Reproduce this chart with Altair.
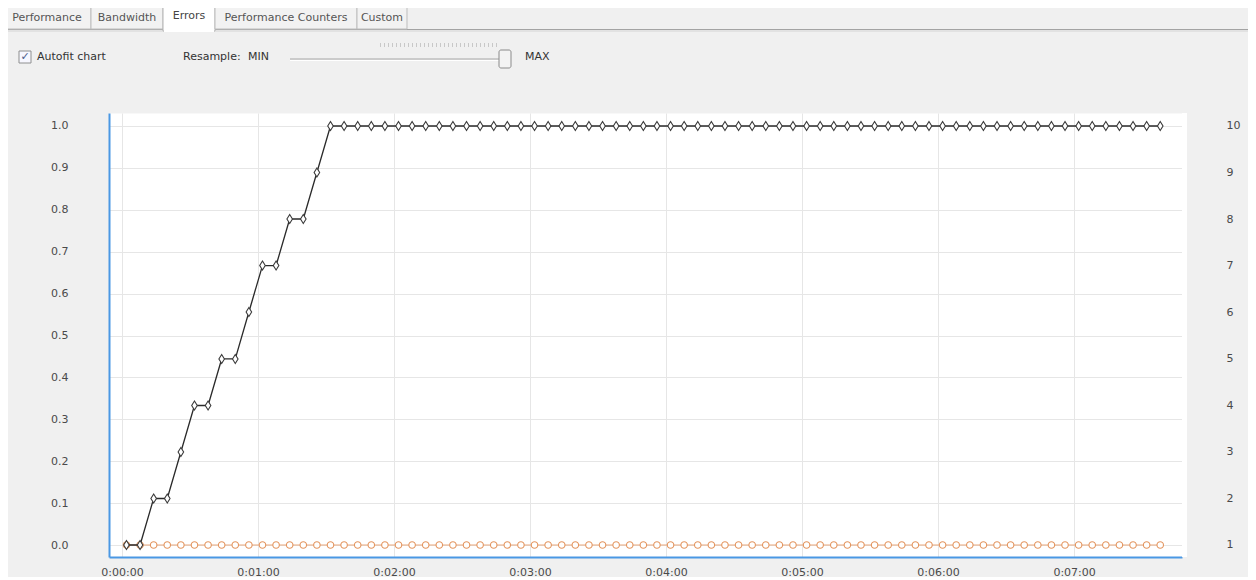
import altair as alt
import pandas as pd

# ---------------- data ----------------
sample_seconds = list(range(2, 459, 6))  # one sample every 6 s (77 samples)
error_ratio = [0.0, 0.0, 0.111, 0.111, 0.222, 0.333, 0.333, 0.444, 0.444,
               0.556, 0.667, 0.667, 0.778, 0.778, 0.889] + [1.0] * 62
other_errors = [0.0] * 77
left_ticks = [0.0, 0.1, 0.2, 0.3, 0.4, 0.5, 0.6, 0.7, 0.8, 0.9, 1.0]
right_ticks = [1, 2, 3, 4, 5, 6, 7, 8, 9, 10]
minute_ticks = [0, 60, 120, 180, 240, 300, 360, 420]
tab_labels = ["Performance", "Bandwidth", "Errors", "Performance Counters", "Custom"]

df = pd.DataFrame({"t": sample_seconds, "errors": error_ratio, "other": other_errors})
df_right = pd.DataFrame({"r": right_ticks})
one = pd.DataFrame({"k": [0]})

FONT = "DejaVu Sans"
BLUE = "#4a98e4"
GRID = "#e6e6e6"
LBL = "#4a4a4a"

# plot origin on the page
OX, OY = 109, 113
W, H = 1073, 444

xs = alt.Scale(domain=[-5.7, 467.6], nice=False, zero=False)
ys = alt.Scale(domain=[-0.0286, 1.031], nice=False, zero=False)
rs = alt.Scale(domain=[0.742, 10.279], nice=False, zero=False)

XAX = alt.Axis(values=minute_ticks, labelExpr="'0:0' + floor(datum.value / 60) + ':00'",
               title="", ticks=False, domainColor=BLUE, domainWidth=2,
               grid=True, gridColor=GRID, labelPadding=9, labelFontSize=11,
               labelColor=LBL, labelFont=FONT)
YAX = alt.Axis(values=left_ticks, format=".1f", title="", ticks=False,
               domainColor=BLUE, domainWidth=2, grid=True, gridColor=GRID,
               labelPadding=41, labelFontSize=11, labelColor=LBL, labelFont=FONT)
RAX = alt.Axis(values=right_ticks, format="d", title="", ticks=False, domain=False,
               grid=False, orient="right", labelAlign="left", labelPadding=44,
               labelFontSize=11, labelColor=LBL, labelFont=FONT)

base = alt.Chart(df)
X = alt.X("t:Q", scale=xs, axis=XAX)

orange_line = base.mark_line(color="#e9a77c", strokeWidth=1.2).encode(
    x=X, y=alt.Y("other:Q", scale=ys, axis=YAX))
orange_pts = base.mark_point(shape="circle", size=42, filled=True, fill="white",
                             stroke="#e3955f", strokeWidth=1.1, opacity=1).encode(
    x=X, y=alt.Y("other:Q", scale=ys, axis=YAX))
black_line = base.mark_line(color="#2a2a2a", strokeWidth=1.3).encode(
    x=X, y=alt.Y("errors:Q", scale=ys, axis=YAX))
black_pts = base.mark_point(shape="M0,-1L0.62,0L0,1L-0.62,0Z", size=80, filled=True,
                            fill="white", stroke="#3a3a3a", strokeWidth=1.1, opacity=1).encode(
    x=X, y=alt.Y("errors:Q", scale=ys, axis=YAX))

data_layer = alt.layer(orange_line, orange_pts, black_line, black_pts)

right_axis = alt.Chart(df_right).mark_point(opacity=0).encode(
    y=alt.Y("r:Q", scale=rs, axis=RAX))


# ---------------- window decoration ----------------
def ui_rect(x1, y1, x2, y2, fill, stroke="transparent", sw=1, radius=0):
    return alt.Chart(one).mark_rect(fill=fill, stroke=stroke, strokeWidth=sw,
                                    cornerRadius=radius).encode(
        x=alt.value(x1 - OX), x2=alt.value(x2 - OX),
        y=alt.value(y1 - OY), y2=alt.value(y2 - OY))


def ui_rule(x1, y1, x2, y2, color, width=1, dash=(1, 0)):
    return alt.Chart(one).mark_rule(color=color, strokeWidth=width,
                                    strokeDash=list(dash)).encode(
        x=alt.value(x1 - OX), x2=alt.value(x2 - OX),
        y=alt.value(y1 - OY), y2=alt.value(y2 - OY))


def ui_text(s, x, y, align="left", size=11, color="#333333"):
    return alt.Chart(one).mark_text(text=s, align=align, baseline="middle",
                                    fontSize=size, font=FONT, color=color).encode(
        x=alt.value(x - OX), y=alt.value(y - OY))


deco = []
# tab strip
tab_edges = [3, 91, 163, 215, 357, 407]
deco.append(ui_rule(0, 29.5, 1256, 29.5, "#a3a3a3", 1))
deco.append(ui_rule(0, 31, 1256, 31, "#d4d4d4", 1))
for i, name in enumerate(tab_labels):
    x1, x2 = tab_edges[i], tab_edges[i + 1]
    if name == "Errors":
        deco.append(ui_rect(x1, 3, x2, 31, "#ffffff", "#b4b4b4"))
        deco.append(ui_rect(x1 + 1, 28, x2 - 1, 32, "#ffffff"))
        deco.append(ui_text(name, (x1 + x2) / 2, 16, "center", 11, "#444444"))
    else:
        deco.append(ui_rect(x1, 5, x2, 29, "#f2f2f2", "#bdbdbd"))
        deco.append(ui_text(name, (x1 + x2) / 2, 18, "center", 11, "#555555"))
# checkbox
deco.append(ui_rect(19, 51, 31, 63, "#f7f7ff", "#8e8f8f"))
deco.append(ui_text("\u2713", 25, 57, "center", 11, "#4b5a8a"))
deco.append(ui_text("Autofit chart", 37, 57))
# resample slider
deco.append(ui_text("Resample:", 183, 57))
deco.append(ui_text("MIN", 248, 57))
deco.append(ui_rule(380, 45, 497, 45, "#c8c8c8", 4, (1, 3)))
deco.append(ui_rule(290, 59, 500, 59, "#a6a6a6", 1))
deco.append(ui_rule(290, 60.5, 500, 60.5, "#ffffff", 1))
deco.append(ui_rect(499, 50, 511, 68, "#f3f3f3", "#8a8a8a", 1, 2))
deco.append(ui_text("MAX", 525, 57))
# small white strip at the right of the plot area
deco.append(ui_rect(1182, 113, 1187, 557, "#ffffff"))

chart = alt.layer(data_layer, right_axis, *deco).resolve_scale(y="independent").properties(
    width=W, height=H,
    autosize=alt.AutoSizeParams(type="none"),
    padding={"left": OX - 8, "top": OY - 8, "right": 66, "bottom": 20},
    background="#f0f0f0",
).configure_view(fill="white", stroke="transparent")

chart.save("out.html", embed_options={"renderer": "svg", "actions": False})
